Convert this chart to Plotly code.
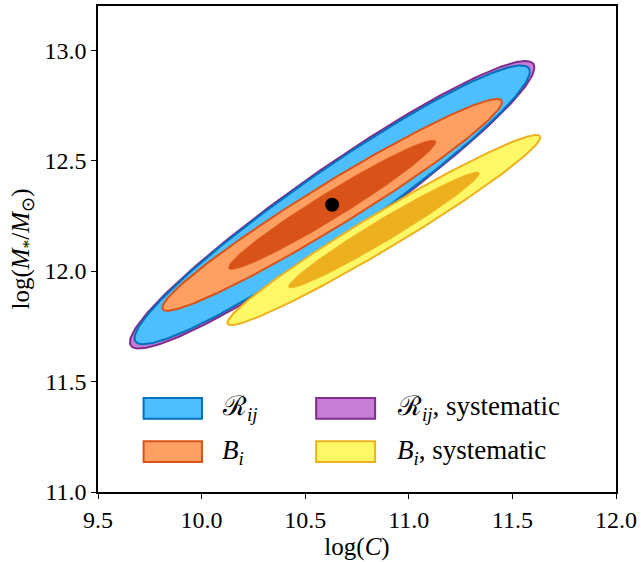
import numpy as np
import plotly.graph_objects as go

# Confidence regions in the (log C, log M*/M_sun) plane
names = ["R_ij, systematic", "R_ij", "B_i, systematic", "B_i"]
labels = {
    "R_ij": "ℛ<sub><i>ij</i></sub>",
    "B_i": "<i>B</i><sub><i>i</i></sub>",
    "R_ij, systematic": "ℛ<sub><i>ij</i></sub>, systematic",
    "B_i, systematic": "<i>B</i><sub><i>i</i></sub>, systematic",
}
center_x = [10.63, 10.63, 10.88, 10.63]
center_y = [12.30, 12.30, 12.186, 12.30]
sigma_x = [0.393, 0.384, 0.304, 0.330]
sigma_y = [0.262, 0.254, 0.1732, 0.193]
rho = [0.955, 0.956, 0.9753, 0.9709]
# contour levels drawn for each region (delta chi^2 for 2 dof)
levels = [[6.17], [6.17], [6.17, 2.30], [6.17, 2.30]]

edge_colors = ["#7E2F8E", "#0072BD", "#EDB120", "#D95319"]
fill_colors = ["#C77CD6", "#4DBFFF", "#FFF866", "#FFA062"]
inner_colors = ["#7E2F8E", "#0072BD", "#EDB120", "#D95319"]

best_x = [10.63]
best_y = [12.30]

FONT = "Liberation Serif"


def ellipse(cx, cy, sx, sy, r, dchi2, n=240):
    cov = np.array([[sx * sx, r * sx * sy], [r * sx * sy, sy * sy]])
    L = np.linalg.cholesky(cov)
    t = np.linspace(0, 2 * np.pi, n)
    pts = np.sqrt(dchi2) * (L @ np.vstack([np.cos(t), np.sin(t)]))
    return cx + pts[0], cy + pts[1]


fig = go.Figure()
for i, nm in enumerate(names):
    for j, lv in enumerate(levels[i]):
        ex, ey = ellipse(center_x[i], center_y[i], sigma_x[i], sigma_y[i], rho[i], lv)
        outer = j == 0
        fig.add_trace(go.Scatter(
            x=ex, y=ey, mode="lines", fill="toself",
            fillcolor=fill_colors[i] if outer else inner_colors[i],
            line=dict(color=edge_colors[i], width=2 if outer else 0.5),
            name=nm, showlegend=False, hoverinfo="skip",
        ))

fig.add_trace(go.Scatter(
    x=best_x, y=best_y, mode="markers",
    marker=dict(color="black", size=14), showlegend=False,
))

# legend drawn as patches + labels inside the axes
legend_items = ["R_ij", "B_i", "R_ij, systematic", "B_i, systematic"]
patch_x = [(0.088, 0.2007), (0.088, 0.2007), (0.4212, 0.535), (0.4212, 0.535)]
patch_y = [(0.1505, 0.1936), (0.0615, 0.1046), (0.1505, 0.1936), (0.0615, 0.1046)]
text_x = [0.236, 0.236, 0.5736, 0.5736]
for k, item in enumerate(legend_items):
    i = names.index(item)
    fig.add_shape(type="rect", xref="x domain", yref="y domain",
                  x0=patch_x[k][0], x1=patch_x[k][1],
                  y0=patch_y[k][0], y1=patch_y[k][1],
                  fillcolor=fill_colors[i],
                  line=dict(color=edge_colors[i], width=2))
    fig.add_annotation(xref="x domain", yref="y domain",
                       x=text_x[k], y=(patch_y[k][0] + patch_y[k][1]) / 2,
                       text=labels[item], showarrow=False,
                       xanchor="left", yanchor="middle",
                       font=dict(family=FONT, size=27, color="black"))

axis_common = dict(
    showgrid=False, zeroline=False, showline=True, linecolor="black",
    linewidth=1.5, mirror=True, ticks="outside", ticklen=5, tickwidth=1.2,
    tickcolor="black", tickfont=dict(family=FONT, size=24, color="black"),
)

fig.update_layout(
    width=641, height=562,
    margin=dict(l=98, r=25, t=4, b=70),
    plot_bgcolor="white", paper_bgcolor="white",
    font=dict(family=FONT, size=24, color="black"),
    xaxis=dict(range=[9.5, 12.0], tickvals=[9.5, 10.0, 10.5, 11.0, 11.5, 12.0],
               ticktext=["9.5", "10.0", "10.5", "11.0", "11.5", "12.0"],
               title=dict(text="log(<i>C</i>)", font=dict(family=FONT, size=25, color="black"),
                          standoff=0),
               **axis_common),
    yaxis=dict(range=[11.0, 13.2], tickvals=[11.0, 11.5, 12.0, 12.5, 13.0],
               ticktext=["11.0", "11.5", "12.0", "12.5", "13.0"],
               title=dict(text="log(<i>M</i><sub>*</sub>/<i>M</i><sub>⊙</sub>)",
                          font=dict(family=FONT, size=25, color="black"), standoff=8),
               **axis_common),
)

fig.write_html("out.html")
